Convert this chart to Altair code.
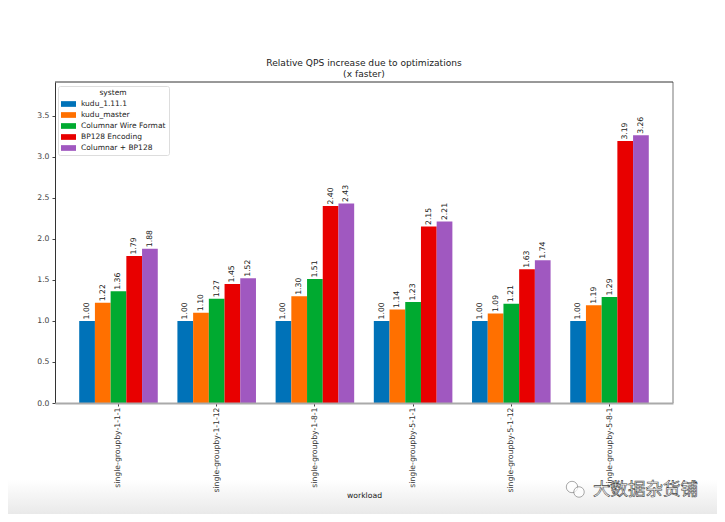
import altair as alt
import pandas as pd

workloads = ["single-groupby-1-1-1", "single-groupby-1-1-12", "single-groupby-1-8-1",
             "single-groupby-5-1-1", "single-groupby-5-1-12", "single-groupby-5-8-1"]
systems = ["kudu_1.11.1", "kudu_master", "Columnar Wire Format", "BP128 Encoding", "Columnar + BP128"]
colors = ["#0072b8", "#ff7000", "#00aa30", "#e80000", "#a058c0"]
kudu_1_11_1 = [1.00, 1.00, 1.00, 1.00, 1.00, 1.00]
kudu_master = [1.22, 1.10, 1.30, 1.14, 1.09, 1.19]
columnar = [1.36, 1.27, 1.51, 1.23, 1.21, 1.29]
bp128 = [1.79, 1.45, 2.40, 2.15, 1.63, 3.19]
columnar_bp128 = [1.88, 1.52, 2.43, 2.21, 1.74, 3.26]
series = [kudu_1_11_1, kudu_master, columnar, bp128, columnar_bp128]

rows = [{"workload": w, "system": s, "value": v[i]}
        for s, v in zip(systems, series) for i, w in enumerate(workloads)]
df = pd.DataFrame(rows)

W, H = 618, 321
FONT = "DejaVu Sans"

x = alt.X("workload:N", sort=workloads, title="workload",
          scale=alt.Scale(paddingInner=0.2, paddingOuter=0.2465),
          axis=alt.Axis(labelAngle=-90, labelFontSize=7.7, labelFont=FONT, labelColor="#333",
                        titleFontSize=7.7, titleFont=FONT, titleColor="#222", titleFontWeight="normal",
                        titleY=92, titleBaseline="middle", labelPadding=1, tickSize=3, tickColor="#444",
                        domainColor="#aaaaaa", domainWidth=2, grid=False, zindex=1,
                        labelOverlap=False))
xo = alt.XOffset("system:N", sort=systems, scale=alt.Scale(paddingInner=0, paddingOuter=0))
y = alt.Y("value:Q", title=None,
          scale=alt.Scale(domain=[0, 3.91], nice=False),
          axis=alt.Axis(values=[0, 0.5, 1, 1.5, 2, 2.5, 3, 3.5], format=".1f", labelFontSize=7.7,
                        labelFont=FONT, labelColor="#444", tickSize=3, tickColor="#444",
                        domainColor="#333333", domainWidth=1, grid=False, labelPadding=3))

bars = alt.Chart(df).mark_bar(strokeWidth=0).encode(
    x=x, xOffset=xo, y=y,
    color=alt.Color("system:N", sort=systems,
                    scale=alt.Scale(domain=systems, range=colors),
                    legend=alt.Legend(orient="none", legendX=3, legendY=4, title="system",
                                      titleFontSize=7.5, titleFont=FONT, titleFontWeight="normal",
                                      titleColor="#222", titleAnchor="middle", titlePadding=0,
                                      labelFontSize=7.5, labelFont=FONT, labelColor="#222",
                                      symbolType="M-1,-0.38H1V0.38H-1Z", symbolSize=225,
                                      symbolStrokeWidth=0, rowPadding=-0.5, columnPadding=4,
                                      fillColor="white", strokeColor="#dddddd", padding=3,
                                      cornerRadius=2, labelOffset=5)))

labels = alt.Chart(df).mark_text(angle=270, align="left", baseline="middle", dx=1.5,
                                 fontSize=7.7, font=FONT, color="#222").encode(
    x=x, xOffset=xo, y=y, text=alt.Text("value:Q", format=".2f"))

blank = alt.Data(values=[{"k": 0}])
grad = alt.Gradient(gradient="linear", x1=0, x2=0, y1=0, y2=1,
                    stops=[alt.GradientStop(offset=0, color="#ffffff"),
                           alt.GradientStop(offset=1, color="#e9e9e9")])
RIGHT = W + 44
footer = alt.Chart(blank).mark_rect(fill=grad).encode(
    x=alt.value(-47), x2=alt.value(RIGHT), y=alt.value(398), y2=alt.value(432))
footer_line = alt.Chart(blank).mark_rect(fill="#dddddd").encode(
    x=alt.value(-47), x2=alt.value(RIGHT), y=alt.value(432), y2=alt.value(432.8))
right_edge = alt.Chart(blank).mark_rule(color="#bbbbbb", strokeWidth=2).encode(
    x=alt.value(W), y=alt.value(0), y2=alt.value(H))
top_edge = alt.Chart(blank).mark_rule(color="#333333", strokeWidth=1).encode(
    x=alt.value(0), x2=alt.value(W), y=alt.value(0))
mark_text = alt.Chart(blank).mark_text(text="大数据杂货铺", font="Noto Sans CJK SC", fontSize=17.5,
                                       align="left", baseline="middle", fill="#ffffff",
                                       stroke="#444444", strokeWidth=0.6).encode(
    x=alt.value(538), y=alt.value(408))
wechat_a = alt.Chart(blank).mark_point(shape="circle", size=130, filled=True, fill="#ffffff",
                                       stroke="#555555", strokeWidth=0.7).encode(
    x=alt.value(517), y=alt.value(405))
wechat_b = alt.Chart(blank).mark_point(shape="circle", size=110, filled=True, fill="#ffffff",
                                       stroke="#555555", strokeWidth=0.7).encode(
    x=alt.value(524), y=alt.value(410))

chart = alt.layer(footer, footer_line, bars, labels, right_edge, top_edge,
                  wechat_a, wechat_b, mark_text).properties(
    width=W, height=H,
    autosize=alt.AutoSizeParams(type="none"),
    padding={"left": 47, "top": 74, "right": 44, "bottom": 111},
    title=alt.Title(["Relative QPS increase due to optimizations", "(x faster)"],
                    font=FONT, fontSize=9.1, fontWeight="normal", color="#222",
                    anchor="middle", offset=2, lineHeight=11),
).configure_view(stroke=None)

chart.save("out.html", embed_options={"renderer": "svg", "actions": False})
